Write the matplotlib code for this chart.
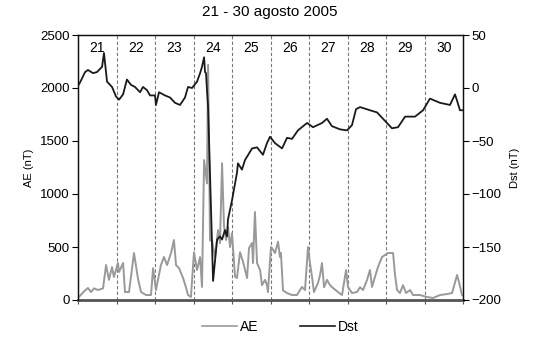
import matplotlib
matplotlib.use("Agg")
import matplotlib.pyplot as plt
from matplotlib.lines import Line2D

plt.rcParams['font.family'] = ['Liberation Sans', 'DejaVu Sans']

title = "21 - 30 agosto 2005"
day_labels = ["21", "22", "23", "24", "25", "26", "27", "28", "29", "30"]

# hours since 21 Aug 00 UT
dst_hours = [0, 1.2, 4.4, 6.2, 9.4, 11.8, 15.0, 16.2, 18.1, 21.2, 23.7, 25.6, 28.1, 30.5,
             33.0, 35.5, 38.7, 40.5, 43.0, 44.9, 48.0, 48.6, 50.5, 54.2, 57.4, 60.5, 63.6,
             66.7, 68.6, 71.1, 74.2, 76.1, 77.3, 78.6, 79.2, 79.8, 80.4, 81.1, 84.2, 86.7,
             88.5, 89.8, 91.6, 92.9, 93.5, 96.0, 99.1, 99.7, 102.2, 104.1, 108.5, 111.6,
             115.3, 117.8, 119.7, 122.8, 127.2, 130.3, 133.4, 137.1, 142.8, 146.5, 152.1,
             155.2, 158.3, 163.3, 167.7, 170.8, 173.3, 175.8, 182.0, 186.4, 189.5, 195.7,
             199.5, 203.9, 210.1, 215.1, 219.4, 225.7, 231.9, 235.0, 236.3, 238.1, 240]
dst_values = [2, 5, 15, 17, 14, 15, 20, 33, 6, 1, -8, -11, -6, 8,
              3, 1, -4, 1, -2, -7, -7, -16, -4, -7, -9, -14, -16,
              -9, 1, 0, 6, 14, 20, 29, 15, 14, -2, -18, -182, -143,
              -140, -143, -134, -140, -124, -106, -80, -71, -77, -68, -57, -56,
              -63, -52, -46, -52, -57, -47, -48, -40, -33, -37, -33,
              -29, -36, -39, -40, -35, -20, -18, -21, -23, -28, -38,
              -37, -27, -27, -21, -10, -14, -16, -6, -12, -21, -21]

ae_hours = [0, 0.6, 3.7, 6.2, 8.1, 10.0, 12.5, 15.6, 17.5, 19.3, 21.2, 22.4, 24.9, 25.6,
            28.1, 29.3, 31.8, 34.9, 37.4, 39.3, 42.4, 45.5, 46.8, 48.6, 51.7, 53.6, 55.5,
            58.0, 59.8, 61.1, 63.0, 65.5, 67.3, 68.6, 70.4, 72.3, 74.2, 76.1, 77.3, 78.6,
            80.4, 81.1, 82.3, 83.5, 85.4, 87.3, 88.5, 89.8, 91.0, 92.3, 93.5, 94.8, 96.0,
            97.9, 99.1, 101.0, 102.9, 105.4, 106.6, 108.5, 109.1, 110.3, 111.6, 113.5,
            114.7, 116.6, 117.8, 118.4, 120.3, 120.9, 122.8, 124.7, 125.9, 126.5, 127.8,
            130.3, 133.4, 136.5, 138.4, 139.6, 141.5, 143.4, 144.6, 145.9, 147.1, 149.6,
            150.9, 152.1, 153.4, 155.2, 157.1, 159.0, 162.1, 164.6, 167.1, 168.3, 170.8,
            173.9, 175.8, 177.7, 180.2, 182.0, 183.3, 185.1, 187.0, 189.5, 191.4, 193.2,
            196.4, 197.6, 198.9, 200.7, 202.6, 204.5, 207.0, 208.8, 213.2, 217.6, 221.3,
            225.7, 230.0, 233.2, 236.3, 237.5, 239.4, 240]
ae_values = [20, 30, 80, 113, 75, 110, 94, 110, 330, 190, 311, 217, 350, 264,
             349, 75, 75, 443, 200, 75, 47, 47, 300, 94, 330, 406, 330,
             443, 566, 330, 300, 207, 120, 47, 28, 450, 283, 405, 123, 1320,
             1100, 2220, 560, 566, 405, 660, 537, 1290, 700, 566, 690, 500, 630,
             220, 207, 450, 360, 207, 490, 537, 349, 830, 349, 283,
             140, 190, 140, 75, 500, 490, 443, 550, 405, 443, 90,
             66, 47, 47, 94, 123, 94, 500, 349, 217, 75, 160,
             236, 349, 120, 190, 140, 113, 75, 47, 283, 123, 66,
             75, 120, 94, 190, 283, 123, 217, 311, 405, 425, 443,
             443, 240, 94, 66, 140, 66, 94, 47, 47, 28, 19,
             47, 56, 66, 236, 170, 47, 40]

W, H = 539, 342
fig = plt.figure(figsize=(W / 100, H / 100), dpi=100)
ax = fig.add_axes([78 / W, (H - 300) / H, (463 - 78) / W, (300 - 35) / H])
ax2 = ax.twinx()

ax.plot(ae_hours, ae_values, color='#999999', lw=1.4, zorder=3)
ax2.plot(dst_hours, dst_values, color='#1a1a1a', lw=1.3, zorder=4)

ax.set_xlim(0, 240)
ax.set_ylim(0, 2500)
ax2.set_ylim(-200, 50)
ax.set_yticks([0, 500, 1000, 1500, 2000, 2500])
ax2.set_yticks([-200, -150, -100, -50, 0, 50])

for d in range(1, 10):
    ax.axvline(d * 24, color='#777777', ls=(0, (3, 2)), lw=0.8, zorder=1)
for i, lab in enumerate(day_labels):
    ax.text(i * 24 + 12, 2375, lab, ha='center', va='center', fontsize=10, zorder=5)

ax.set_xticks([d * 24 for d in range(0, 11)])
ax.set_xticklabels([])
ax.tick_params(axis='x', direction='out', length=3, width=0.8, color='#555555')
ax.tick_params(axis='y', direction='out', length=4, width=0.8, labelsize=9.5, pad=2)
ax2.tick_params(axis='y', direction='out', length=4, width=0.8, labelsize=9.5, pad=2)

ax.set_ylabel("AE (nT)", fontsize=8, labelpad=4)
ax2.set_ylabel("Dst (nT)", fontsize=8, labelpad=6)
ax2.yaxis.label.set_rotation(90)

for a in (ax, ax2):
    for s in a.spines.values():
        s.set_linewidth(0.9)
        s.set_color('#111111')
ax.spines['bottom'].set_linewidth(2)
ax.spines['bottom'].set_color('#555555')
ax2.spines['bottom'].set_visible(False)

fig.suptitle(title, x=0.5, y=0.985, fontsize=11, va='top')

handles = [Line2D([], [], color='#999999', lw=1.2), Line2D([], [], color='#1a1a1a', lw=1.2)]
fig.legend(handles, ["AE", "Dst"], loc='center', bbox_to_anchor=(0.52, 0.045), ncol=2,
           frameon=False, fontsize=10, handlelength=2.5, handletextpad=0.2, columnspacing=3)

fig.savefig("out.png", dpi=100)
